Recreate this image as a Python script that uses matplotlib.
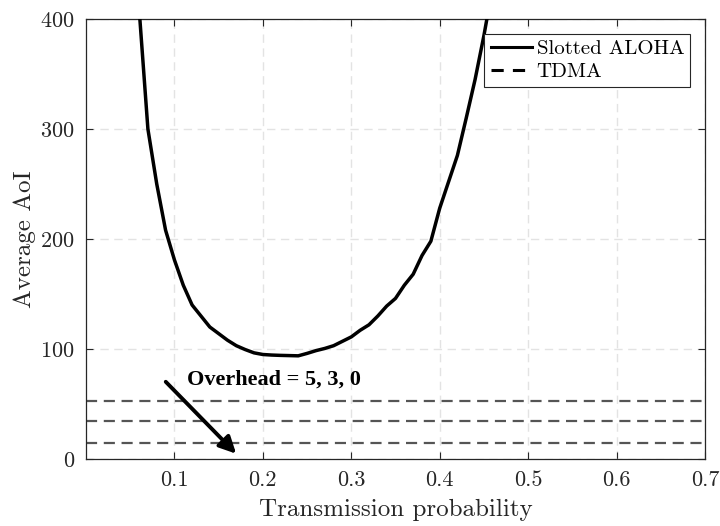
import matplotlib
matplotlib.use("Agg")
import matplotlib.pyplot as plt
from matplotlib.lines import Line2D

p = [0.05, 0.06, 0.07, 0.08, 0.09, 0.10, 0.11, 0.12, 0.13, 0.14, 0.15, 0.16, 0.17, 0.18, 0.19,
     0.20, 0.21, 0.22, 0.23, 0.24, 0.25, 0.26, 0.27, 0.28, 0.29, 0.30, 0.31, 0.32, 0.33, 0.34,
     0.35, 0.36, 0.37, 0.38, 0.39, 0.40, 0.41, 0.42, 0.43, 0.44, 0.45, 0.46]
aloha = [520, 410, 300, 250, 208, 181, 158, 140, 130, 120, 114, 108, 103, 99.5, 96.5,
         95, 94.5, 94.2, 94, 93.8, 96, 98.5, 100.5, 103, 107, 111, 117, 122, 130, 139,
         146, 158, 168, 185, 198, 228, 252, 276, 310, 345, 385, 430]
tdma = [52.5, 34.5, 15.0]

plt.rcParams['font.family'] = ['cmr10', 'DejaVu Serif']
plt.rcParams['axes.formatter.use_mathtext'] = True
plt.rcParams['mathtext.fontset'] = 'cm'

fig = plt.figure(figsize=(7.2, 5.26), dpi=100)
ax = fig.add_axes([86/720, 1 - 459/526, (705-86)/720, (459-19)/526])

ax.plot(p, aloha, color='black', lw=2.5, zorder=3)
for v in tdma:
    ax.axhline(v, color='#555555', lw=1.6, ls=(0, (5, 3)), zorder=2)

ax.set_xlim(0, 0.7)
ax.set_ylim(0, 400)
ax.set_xticks([0.1, 0.2, 0.3, 0.4, 0.5, 0.6, 0.7])
ax.set_xticklabels(['0.1', '0.2', '0.3', '0.4', '0.5', '0.6', '0.7'])
ax.set_yticks([0, 100, 200, 300, 400])
ax.grid(True, color='#e3e3e3', ls=(0, (6, 4)), lw=1.0, zorder=0)
ax.tick_params(direction='in', top=True, right=True, labelsize=16, length=5,
               color='#262626', labelcolor='#262626', pad=8)
for s in ax.spines.values():
    s.set_color('#262626')
    s.set_linewidth(0.9)

ax.set_xlabel('Transmission probability', fontsize=18, color='#262626', labelpad=7)
ax.set_ylabel('Average AoI', fontsize=18, color='#262626', labelpad=3)

ax.annotate('', xy=(0.172, 3), xytext=(0.088, 72),
            arrowprops=dict(arrowstyle='-|>,head_length=1.0,head_width=0.5', color='black', lw=2.8),
            zorder=4)
ax.text(0.114, 72, 'Overhead = 5, 3, 0', family='Liberation Serif', weight='bold',
        fontsize=16, va='center', ha='left', zorder=4)

handles = [Line2D([], [], color='black', lw=2.2),
           Line2D([], [], color='black', lw=2.2, ls=(0, (4, 3)))]
leg = ax.legend(handles, ['Slotted ALOHA', 'TDMA'], loc='upper right', fontsize=15,
                frameon=True, fancybox=False, edgecolor='#262626', framealpha=1,
                borderpad=0.3, labelspacing=0.2, handlelength=2.0, handletextpad=0.2,
                borderaxespad=0.7)
leg.get_frame().set_linewidth(0.8)

fig.savefig('out.png', dpi=100)
